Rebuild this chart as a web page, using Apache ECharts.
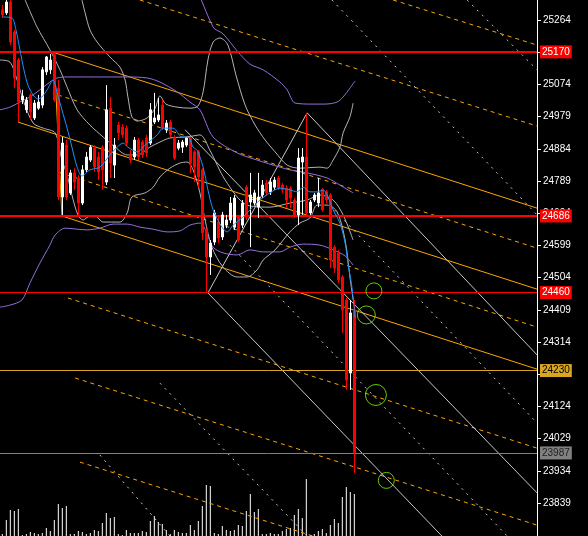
<!DOCTYPE html>
<html>
<head>
<meta charset="utf-8">
<script src="https://cdn.jsdelivr.net/npm/echarts@6/dist/echarts.min.js"></script>
<style>
  html, body { margin: 0; padding: 0; background: #000; }
  #chart { width: 588px; height: 536px; }
</style>
</head>
<body>
<div id="chart"></div>
<script>
// ---- price bars: [open, close, low, high] ----
const bars = [
  [25294, 25279, 25270, 25308], [25285, 25317, 25279, 25335], [25317, 25199, 25190, 25335],
  [25229, 25093, 25063, 25235], [25146, 25022, 24963, 25152], [25028, 25040, 25016, 25058],
  [24999, 25028, 24990, 25037], [25043, 24993, 24969, 25049], [24975, 25019, 24969, 25028],
  [25004, 25022, 24999, 25043], [25013, 25117, 25004, 25125], [25111, 25155, 25102, 25158],
  [25117, 25146, 25105, 25164], [25161, 25028, 25022, 25170], [25063, 24742, 24733, 25087],
  [24742, 24901, 24689, 24919], [24895, 24742, 24733, 24910], [24754, 24813, 24748, 24822],
  [24813, 24786, 24763, 24827], [24798, 24724, 24683, 24807], [24724, 24822, 24718, 24836],
  [24822, 24860, 24816, 24875], [24851, 24889, 24845, 24895], [24886, 24830, 24816, 24895],
  [24860, 24816, 24792, 24875], [24889, 24822, 24763, 24895], [24786, 24999, 24777, 25072],
  [25004, 24842, 24798, 25037], [24836, 24895, 24798, 24916], [24954, 24931, 24910, 24963],
  [24948, 24925, 24916, 24957], [24945, 24901, 24892, 24954], [24866, 24851, 24842, 24880],
  [24860, 24910, 24851, 24919], [24910, 24860, 24851, 24916], [24904, 24866, 24857, 24910],
  [24916, 24872, 24860, 24925], [24901, 24999, 24895, 25019], [24963, 24975, 24957, 25049],
  [24969, 24984, 24963, 25034], [25013, 24945, 24940, 25028], [24940, 24960, 24931, 24969],
  [24963, 24925, 24919, 24969], [24919, 24857, 24851, 24925], [24886, 24901, 24880, 24910],
  [24889, 24904, 24872, 24910], [24895, 24916, 24889, 24919], [24916, 24842, 24813, 24919],
  [24875, 24830, 24786, 24880], [24875, 24801, 24771, 24880], [24822, 24636, 24615, 24827],
  [24645, 24565, 24459, 24650], [24565, 24606, 24512, 24615], [24609, 24695, 24600, 24704],
  [24668, 24621, 24606, 24683], [24624, 24689, 24615, 24698], [24659, 24674, 24650, 24689],
  [24674, 24724, 24665, 24742], [24653, 24739, 24645, 24748], [24683, 24615, 24609, 24689],
  [24659, 24724, 24650, 24733], [24771, 24683, 24674, 24777], [24727, 24748, 24594, 24813],
  [24724, 24754, 24715, 24763], [24712, 24742, 24680, 24813], [24748, 24777, 24739, 24792],
  [24783, 24754, 24745, 24792], [24757, 24786, 24748, 24798], [24771, 24792, 24763, 24801],
  [24798, 24768, 24763, 24804], [24777, 24763, 24754, 24783], [24768, 24733, 24709, 24777],
  [24768, 24739, 24709, 24774], [24733, 24689, 24680, 24739], [24689, 24857, 24659, 24886],
  [24845, 24860, 24689, 24886], [24860, 24695, 24689, 24990], [24695, 24727, 24689, 24733],
  [24733, 24748, 24727, 24754], [24724, 24754, 24712, 24798], [24763, 24704, 24698, 24768],
  [24757, 24733, 24724, 24763], [24748, 24556, 24532, 24754], [24594, 24532, 24518, 24600],
  [24577, 24497, 24488, 24586], [24506, 24409, 24341, 24512], [24438, 24202, 24173, 24444],
  [24223, 24400, 24173, 24438], [24409, 23987, 23928, 24438]
];

// ---- tick volume per bar ----
const volumes = [
  20, 160, 260, 250, 270, 10, 20, 40, 30, 20, 30, 80, 50, 160, 320, 280, 300, 20, 20, 50,
  40, 20, 30, 60, 50, 130, 230, 180, 190, 20, 10, 60, 30, 30, 30, 50, 40, 150, 200, 140,
  120, 60, 20, 60, 40, 30, 30, 110, 60, 150, 300, 510, 500, 30, 20, 100, 60, 50, 60, 110,
  100, 250, 420, 240, 270, 20, 20, 30, 20, 20, 50, 70, 80, 210, 270, 180, 570, 10, 20, 50,
  70, 30, 110, 170, 130, 390, 490, 440, 420
];

// ---- price scale ----
const priceTicks = [25264, 25169, 25074, 24979, 24884, 24789, 24694, 24599, 24504,
                    24409, 24314, 24219, 24124, 24029, 23934, 23839];
const priceMin = 23742;
const priceMax = 25323;
const barMin = -0.58;
const barMax = 133.67;

// ---- horizontal levels with their price tags ----
const levelPrices = [25170, 24686, 24460, 24230, 23987];
const levelColors = ['#ff0000', '#ff0000', '#ff0000', '#daa520', '#808080'];
const levelWidths = [2, 2, 1, 1, 1];
const levelTextColors = ['#ffffff', '#ffffff', '#ffffff', '#000000', '#202020'];

// ---- moving average (blue), sampled at bar positions: [bar, price] ----
const maLine = [
  [0, 25273], [2.4, 25270], [3.4, 25235], [4.4, 25176], [5.4, 25117], [6.4, 25072],
  [7.7, 25043], [8.9, 25031], [9.9, 25037], [11.2, 25058], [12.7, 25087], [13.7, 25049],
  [14.9, 24999], [16.2, 24945], [17.4, 24889], [18.7, 24830], [19.9, 24804], [21.9, 24822],
  [24.4, 24830], [26.9, 24866], [28.7, 24889], [30.2, 24901], [31.4, 24889], [33.7, 24875],
  [35.7, 24895], [38.7, 24925], [40.2, 24945], [42.7, 24945], [44.9, 24919], [46.4, 24919],
  [47.7, 24889], [48.7, 24880], [50.2, 24830], [51.4, 24763], [52.7, 24704], [54.9, 24653],
  [56.2, 24639], [57.7, 24659], [59.9, 24680], [61.9, 24704], [64.4, 24733], [66.9, 24754],
  [69.4, 24768], [71.9, 24763], [73.7, 24757], [75.2, 24771], [76.9, 24757], [78.7, 24757],
  [80.2, 24763], [81.4, 24742], [82.7, 24704], [84.4, 24665], [85.7, 24606], [86.4, 24547],
  [87.4, 24476], [88.2, 24385]
];

// ---- short bands (gray) ----
const grayUpper = [
  [19.9, 25323], [20.7, 25285], [21.9, 25235], [23.7, 25199], [26.9, 25155], [29.4, 25125],
  [30.7, 25087], [31.4, 25037], [32.4, 24978], [33.7, 24966], [36.2, 24975], [38.2, 25004],
  [39.4, 25040], [40.9, 25016], [43.7, 25007], [46.9, 25004], [48.9, 25010], [50.2, 25052],
  [51.4, 25146], [52.7, 25199], [54.4, 25211], [56.4, 25190], [58.4, 25102], [60.7, 25013],
  [63.2, 24954], [65.7, 24910], [68.2, 24875], [71.2, 24836], [74.4, 24827], [79.4, 24830],
  [81.2, 24827], [82.7, 24851], [84.4, 24889], [85.2, 24931], [86.9, 24978], [87.7, 25019]
];
const grayMiddle = [
  [5.7, 25323], [8.7, 25243], [11.9, 25176], [14.4, 25117], [16.2, 25066], [18.7, 24999],
  [21.9, 24954], [25.2, 24919], [28.2, 24889], [31.2, 24866], [33.7, 24866], [36.9, 24889],
  [39.4, 24904], [41.9, 24916], [46.2, 24919], [49.4, 24925], [51.9, 24880], [55.7, 24792],
  [61.2, 24718], [66.9, 24712], [71.9, 24724], [76.2, 24733], [79.4, 24748], [82.7, 24733],
  [85.2, 24689], [87.7, 24615]
];
const grayLower = [
  [-0.6, 25146], [1.9, 25140], [3.7, 25087], [5.2, 25028], [7.7, 24960], [10.2, 24945],
  [13.2, 24931], [14.9, 24851], [16.2, 24807], [17.4, 24748], [18.9, 24689], [20.2, 24674],
  [21.9, 24686], [23.2, 24686], [25.2, 24668], [29.4, 24668], [31.2, 24695], [32.4, 24742],
  [35.7, 24754], [37.7, 24771], [39.4, 24801], [41.9, 24827], [44.4, 24842], [46.2, 24845],
  [47.7, 24822], [49.4, 24754], [50.7, 24674], [52.4, 24594], [55.2, 24535], [58.7, 24506],
  [61.2, 24506], [63.7, 24527], [65.2, 24556], [68.2, 24586], [71.9, 24639], [74.4, 24665],
  [76.9, 24680], [78.7, 24718], [81.2, 24718], [83.7, 24698], [85.7, 24615], [86.9, 24506],
  [87.7, 24438]
];

// ---- long bands (purple) ----
const purpleUpper = [
  [46.9, 25412], [52.7, 25243], [55.2, 25223], [58.7, 25173], [61.9, 25134], [65.2, 25117],
  [69.4, 25081], [71.2, 25058], [73.2, 25019], [77.7, 25016], [80.7, 25016], [83.7, 25022],
  [85.2, 25037], [86.9, 25063], [88.2, 25084]
];
const purpleMiddle = [
  [-0.6, 24999], [1.9, 25007], [4.4, 25022], [6.9, 25037], [9.4, 25058], [11.9, 25081],
  [13.7, 25093], [16.2, 25096], [20.2, 25096], [26.2, 25096], [31.2, 25096], [36.2, 25093],
  [39.4, 25081], [43.7, 25052], [46.9, 25022], [49.4, 24999], [52.7, 24919], [58.7, 24872],
  [63.7, 24851], [69.4, 24830], [71.9, 24822], [76.2, 24813], [81.2, 24798], [84.4, 24777],
  [87.7, 24754]
];
const purpleLower = [
  [-0.6, 24417], [1.9, 24423], [4.9, 24438], [6.9, 24488], [9.4, 24547], [11.9, 24600],
  [13.2, 24630], [15.7, 24650], [18.7, 24647], [21.2, 24645], [24.4, 24650], [27.7, 24662],
  [31.2, 24662], [34.4, 24653], [37.7, 24647], [41.2, 24639], [44.4, 24642], [46.9, 24659],
  [49.4, 24665], [52.7, 24594], [55.2, 24577], [58.7, 24571], [61.9, 24586], [65.2, 24580],
  [69.4, 24580], [71.9, 24594], [75.2, 24603], [79.4, 24600], [82.7, 24586], [85.7, 24568],
  [87.7, 24541]
];

// ---- drawn trend lines: pairs of [bar, price] ----
const orangeSolid = [
  [[12.4, 25170], [133.7, 24709]],
  [[3.9, 24963], [133.7, 24470]],
  [[14.9, 24686], [133.7, 24234]],
  [[12.9, 25170], [14.9, 24686]]
];
const orangeDashed = [
  [[97.7, 25323], [133.7, 25190]],
  [[34.4, 25323], [133.7, 24951]],
  [[13.9, 25043], [133.7, 24591]],
  [[13.9, 24816], [133.7, 24358]],
  [[16.4, 24444], [133.7, 24001]],
  [[19.4, 23960], [133.7, 23532]],
  [[18.2, 24208], [133.7, 23774]]
];
const graySolid = [
  [[76.2, 24990], [133.7, 24276]],
  [[51.4, 24459], [76.2, 24990]],
  [[45.7, 24940], [133.7, 23869]],
  [[51.4, 24459], [133.7, 23450]]
];
const grayDashed = [
  [[82.4, 25323], [133.7, 24689]],
  [[116.2, 25323], [133.7, 25117]],
  [[81.9, 24718], [133.7, 24075]],
  [[56.9, 24600], [126.2, 23742]],
  [[24.4, 23981], [41.9, 23742]],
  [[39.4, 24193], [76.2, 23742]]
];

// ---- marked targets (green rings): [bar, price, size] ----
const targets = [
  [92.9, 24465, 16],
  [91.0, 24394, 18],
  [93.4, 24158, 21],
  [96.0, 23906, 16]
];

const chart = echarts.init(document.getElementById('chart'), null, { renderer: 'canvas' });

function lineSeries(data, color, type, z, smooth) {
  return {
    type: 'line', data: data, xAxisIndex: 0, yAxisIndex: 0,
    showSymbol: false, symbol: 'none', silent: true, clip: true,
    smooth: smooth || false, z: z,
    lineStyle: { color: color, width: 1, type: type }
  };
}

const series = [];

// volume
series.push({
  type: 'bar', xAxisIndex: 0, yAxisIndex: 1,
  data: volumes.map((v, i) => [i, v]),
  barWidth: 1, itemStyle: { color: '#ffffff' }, silent: true, z: 1
});

// trend lines
orangeSolid.forEach(s => series.push(lineSeries(s, '#ffa500', 'solid', 2)));
orangeDashed.forEach(s => series.push(lineSeries(s, '#ffa500', [4, 4], 2)));
graySolid.forEach(s => series.push(lineSeries(s, '#c8c8c8', 'solid', 2)));
grayDashed.forEach(s => series.push(lineSeries(s, '#c8c8c8', [2, 5], 2)));

// bands
[grayUpper, grayMiddle, grayLower].forEach(d => series.push(lineSeries(d, '#b4b4b4', 'solid', 3, 0.3)));
[purpleUpper, purpleMiddle, purpleLower].forEach(d => series.push(lineSeries(d, '#9370db', 'solid', 3, 0.3)));

// candles
series.push({
  type: 'candlestick', xAxisIndex: 0, yAxisIndex: 0,
  data: bars.map((b, i) => [i, b[0], b[1], b[2], b[3]]),
  encode: { x: 0, y: [1, 2, 3, 4] },
  barWidth: 2, silent: true, z: 5,
  itemStyle: {
    color: '#ffffff', color0: '#ff0000',
    borderColor: '#ffffff', borderColor0: '#ff0000', borderWidth: 1
  }
});

// moving average
series.push(lineSeries(maLine, '#1e90ff', 'solid', 6, 0.3));

// horizontal levels with tags
series.push({
  type: 'line', data: [], xAxisIndex: 0, yAxisIndex: 0, z: 7,
  markLine: {
    silent: true, symbol: ['none', 'none'], animation: false,
    data: levelPrices.map((p, i) => ({
      yAxis: p,
      lineStyle: { color: levelColors[i], width: levelWidths[i], type: 'solid' },
      label: {
        show: true, position: 'end', distance: 3,
        formatter: String(p),
        color: levelTextColors[i], backgroundColor: levelColors[i],
        fontFamily: 'Liberation Sans', fontSize: 10,
        padding: [1, 2, 0, 2], lineHeight: 12
      }
    }))
  }
});

// target rings
series.push({
  type: 'scatter', xAxisIndex: 0, yAxisIndex: 0, z: 8, silent: true,
  data: targets.map(t => [t[0], t[1]]),
  symbol: 'circle',
  symbolSize: (v, p) => targets[p.dataIndex][2],
  itemStyle: { color: 'rgba(0,0,0,0)', borderColor: '#7cfc00', borderWidth: 1 }
});

chart.setOption({
  backgroundColor: '#000000',
  animation: false,
  grid: { left: 0, right: 51, top: 0, bottom: 0, containLabel: false },
  xAxis: {
    type: 'value', min: barMin, max: barMax, show: false,
    axisLine: { show: false, onZero: false }, axisTick: { show: false }, axisLabel: { show: false },
    splitLine: { show: false }
  },
  yAxis: [
    {
      type: 'value', position: 'right', min: priceMin, max: priceMax,
      axisLine: { show: true, onZero: false, lineStyle: { color: '#ffffff', width: 1 } },
      axisTick: { show: true, length: 4, customValues: priceTicks, lineStyle: { color: '#ffffff' } },
      axisLabel: {
        customValues: priceTicks, color: '#ffffff', fontSize: 10,
        fontFamily: 'Liberation Sans', margin: 6,
        formatter: v => String(Math.round(v))
      },
      splitLine: { show: false }
    },
    {
      type: 'value', position: 'left', min: 0, max: 5360, show: false,
      axisLine: { show: false, onZero: false }, axisTick: { show: false }, axisLabel: { show: false },
      splitLine: { show: false }
    }
  ],
  series: series
});
</script>
</body>
</html>
